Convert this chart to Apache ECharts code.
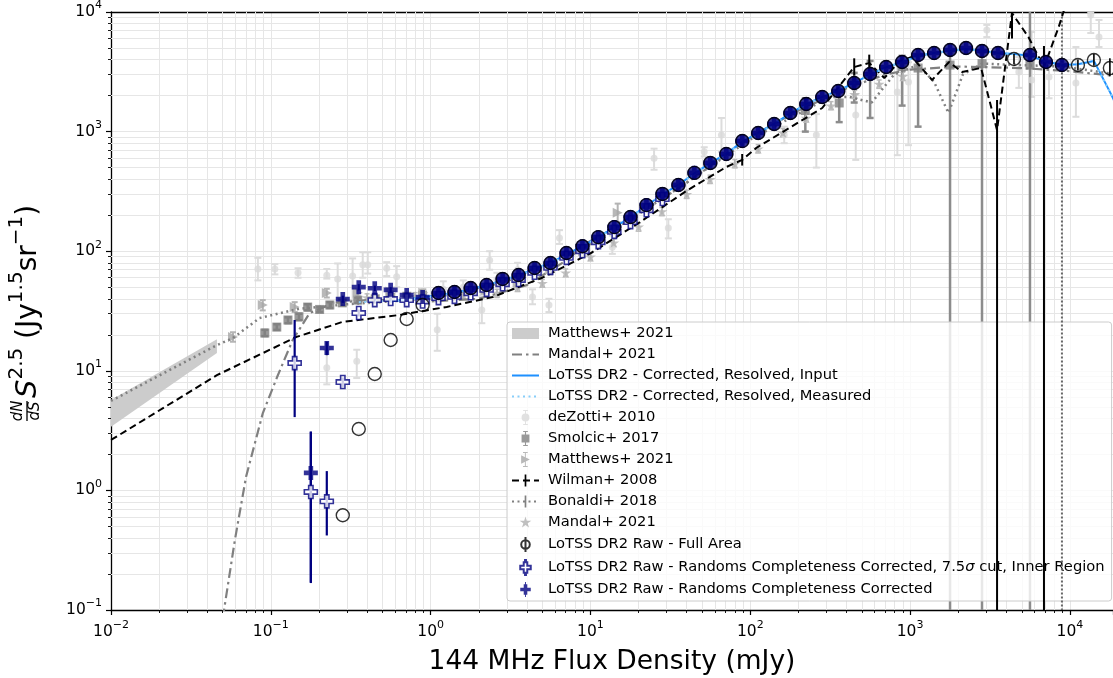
<!DOCTYPE html>
<html><head><meta charset="utf-8">
<script src="https://cdn.jsdelivr.net/npm/echarts@6/dist/echarts.min.js"></script>
<style>html,body{margin:0;padding:0;background:#fff}#c{width:1113px;height:678px}</style>
</head><body><div id="c"></div>
<script>
// ---------------- data ----------------
// Matthews+ 2021 model band
const bandX = [0.01, 0.046];
const bandLo = [3.4, 14.1];
const bandHi = [5.7, 18.4];
// Mandal+ 2021 model line
const mandalLineX = [0.05, 0.0596, 0.07, 0.089, 0.11, 0.137, 0.175, 0.25, 0.4, 0.7, 1, 2, 4, 7.1, 9.5, 17.5, 40, 100, 200, 400, 700, 1000, 2000, 5000, 10000, 20000];
const mandalLineY = [0.085, 0.385, 1.3, 4.4, 9, 18.1, 30.4, 37, 39, 39, 38, 40, 52, 84, 117, 182, 372, 900, 1500, 2300, 3000, 3300, 3500, 3400, 3200, 2900];
// LoTSS DR2 corrected, resolved lines
const lineX = [0.355, 0.447, 0.562, 0.708, 0.891, 1.12, 1.41, 1.78, 2.24, 2.82, 3.55, 4.47, 5.62, 7.08, 8.91, 11.2, 14.1, 17.8, 22.4, 28.2, 35.5, 44.7, 56.2, 70.8, 89.1, 112, 141, 178, 224, 282, 355, 447, 562, 708, 891, 1122, 1413, 1778, 2239, 2818, 3548, 4467, 5623, 7079, 8913, 11220, 14125, 17783, 22387];
const inputY = [null, null, 38, 39.5, 41, 43, 45, 48, 52, 57, 63, 71, 80, 94, 110, 131, 158, 193, 240, 298, 358, 448, 545, 655, 820, 975, 1160, 1420, 1700, 1950, 2200, 2550, 3000, 3450, 3800, 4300, 4550, 4750, 4900, 4750, 4550, 4450, 4300, 3850, 3600, 3650, 3900, 2150, 1150];
const measuredY = [37.5, 38, 38.5, 39.5, 40.5, 42.5, 44.5, 47.5, 51.5, 56.5, 62.5, 70.5, 79.5, 93, 109, 130, 157, 192, 238, 296, 356, 445, 542, 650, 815, 970, 1150, 1410, 1690, 1940, 2190, 2540, 2990, 3440, 3790, 4280, 4530, 4730, 4880, 4740, 4540, 4440, 4290, 3840, 3600, 3650, 3880, 2140, 1150];
// deZotti+ 2010
const dzX = [0.083, 0.106, 0.148, 0.224, 0.262, 0.325, 0.376, 0.404, 0.531, 0.613, 0.224, 0.345, 1.1, 1.2, 1.6, 2.09, 2.34, 2.6, 3.5, 4.34, 5.5, 6.4, 13.7, 25, 30.7, 51.5, 66, 163, 259, 457, 832, 977, 3020, 4790, 5760, 7400, 10900, 13500, 15200];
const dzY = [71, 71, 66, 63, 58.6, 62, 77, 77, 72, 61, 10.6, 12, 22, 48, 50, 32.2, 84, 58, 70, 41.4, 35.5, 129, 108, 600, 156, 677, 938, 938, 938, 1377, 2140, 2600, 7080, 3150, 2700, 2860, 2550, 9440, 6170];
const dzLo = [57, 64, 60, 59, 37, 39, 60, 65, 62, 50, 7.7, 8.7, 14.7, 40, 44, 25, 70, 52, 62, 36, 31, 115, 95, 480, 128, 620, 677, 800, 500, 580, 635, 770, 6170, 2320, 1950, 1900, 1330, 6670, 5100];
const dzHi = [88, 78, 72, 71, 79, 87, 98, 98, 81, 75, 15, 15, 30, 56, 57, 42, 100, 66, 80, 48, 40, 150, 135, 720, 185, 740, 1300, 1100, 1400, 2030, 3960, 3800, 7800, 4200, 6800, 4000, 5100, 10000, 8570];
// Smolcic+ 2017
const smX = [0.0917, 0.109, 0.128, 0.15, 0.17, 0.202, 0.234, 0.28, 0.35, 0.45, 0.56, 0.71, 0.89, 221, 360, 447, 562, 891, 1122, 1778, 2818, 5623];
const smY = [20.7, 23.2, 26.6, 28.3, 34.1, 32.6, 35.5, 37, 39, 40, 41, 42, 43, 1500, 1735, 2550, 3030, 3500, 3400, 3600, 3700, 3600];
const smLo = [19.5, 22, 25, 26.5, 32, 31, 33.5, 35, 37, 38, 39, 40, 41, 1000, 1200, 1750, 1300, 1650, 1100, 0.01, 0.01, 0.01];
const smHi = [22, 24.5, 28, 30, 36, 34, 37.5, 39, 41, 42, 43, 44, 45, 1900, 2100, 3100, 3900, 4300, 4400, 4500, 4600, 12000];
// Matthews+ 2021 points
const mtX = [0.058, 0.089, 0.141, 0.224, 0.35, 0.56, 0.9, 1.4, 2.2, 3.5, 5.6, 9, 14.8];
const mtY = [19.2, 35.5, 34.1, 44.7, 45, 46, 45, 44, 47, 55, 70, 100, 210];
const mtLo = [17.5, 32, 31, 41, 42, 43, 42, 41, 44, 51, 64, 90, 175];
const mtHi = [21, 39, 37.5, 48.5, 48, 49, 48, 47, 50, 59, 76, 110, 250];
// Wilman+ 2008
const wiX = [0.01, 0.046, 0.145, 0.28, 0.64, 1.26, 2.45, 5, 10, 20, 40, 55.5, 70.8, 89, 109, 138, 282, 447, 555, 690, 851, 1023, 1372, 1754, 2113, 2780, 3500, 4340, 5500, 6880, 8510, 9500];
const wiY = [2.64, 9.2, 19.2, 25.6, 29.3, 34.2, 41.4, 60, 96, 172, 320, 417, 506, 580, 730, 883, 1575, 3467, 3750, 2805, 3819, 4207, 2700, 3819, 3150, 3404, 1030, 9800, 6170, 3467, 7500, 12000];
const wiEX = [89, 447, 555, 3500, 4340, 6880];
const wiEY = [580, 3467, 3750, 1030, 9800, 3467];
const wiELo = [520, 2950, 3200, 0.01, 6000, 0.01];
const wiEHi = [650, 4100, 4400, 1840, 100000, 5200];
// Bonaldi+ 2018
const boX = [0.01, 0.046, 0.058, 0.085, 0.15, 0.3, 1, 3, 10, 30, 100, 316, 417, 575, 794, 1122, 1413, 1738, 2138, 2818, 8913, 20000];
const boY = [5.6, 16.4, 18.8, 27.6, 33, 36, 40, 56, 115, 290, 860, 1950, 1950, 1750, 3000, 3600, 2600, 1430, 3000, 3700, 3500, 3000];
const boEX = [8913];
const boEY = [3500];
const boELo = [0.01];
const boEHi = [100000];
// Mandal+ 2021 points
const msX = [0.28, 0.4, 0.56, 0.8, 1.1, 1.6, 2.6, 3.5, 5, 7, 10, 14, 20, 28, 40, 56, 80, 112, 160, 224, 320, 450, 640, 900];
const msY = [38, 41, 43, 42, 41, 43, 44.7, 50, 54, 66, 90, 118, 160, 215, 300, 400, 540, 720, 980, 1300, 1650, 2050, 2500, 2900];
const msLo = [35, 38, 40, 39, 38, 40, 41, 46, 50, 61, 83, 109, 147, 198, 276, 368, 497, 662, 900, 1200, 1520, 1890, 2300, 2670];
const msHi = [41, 44, 46, 45, 44, 46, 48, 54, 58, 71, 97, 127, 173, 232, 324, 432, 583, 778, 1060, 1400, 1780, 2210, 2700, 3130];
// LoTSS DR2 Raw main binned sequence
const mainX = [1.12, 1.41, 1.78, 2.24, 2.82, 3.55, 4.47, 5.62, 7.08, 8.91, 11.2, 14.1, 17.8, 22.4, 28.2, 35.5, 44.7, 56.2, 70.8, 89.1, 112, 141, 178, 224, 282, 355, 447, 562, 708, 891, 1122, 1413, 1778, 2239, 2818, 3548, 5623, 7079, 8913];
const mainY = [44.7, 45.6, 49.2, 52.2, 58.6, 63.2, 72.4, 79.7, 96.6, 110, 131, 159, 193, 243, 301, 358, 452, 547, 650, 834, 973, 1158, 1431, 1702, 1947, 2186, 2549, 3031, 3467, 3819, 4370, 4543, 4813, 5000, 4720, 4543, 4370, 3819, 3604];
// LoTSS DR2 Raw - Full Area (low and high flux ends)
const faLowX = [0.282, 0.355, 0.447, 0.562, 0.708, 0.891];
const faLowY = [0.62, 3.26, 9.4, 18.1, 27.1, 35.5];
const faHighX = [4467, 11220, 14125, 17783];
const faHighY = [4045, 3604, 3970, 3400];
const faHighLo = [3650, 3250, 3550, 2900];
const faHighHi = [4450, 4000, 4450, 4100];
// 7.5 sigma inner region
const opX = [0.141, 0.178, 0.224, 0.282, 0.355, 0.447, 0.562, 0.708, 0.891, 1.12, 1.41, 1.78, 2.24, 2.82, 3.55, 4.47, 5.62, 7.08, 8.91, 11.2, 14.1, 17.8, 22.4, 28.2];
const opY = [11.6, 0.97, 0.81, 8.05, 30.4, 39, 39.8, 39, 38, 40.5, 41.5, 44.5, 47.5, 53, 57.5, 66, 72.5, 88, 100, 119, 145, 175, 220, 273];
const opLo = [4.1, 0.168, 0.42, 7.3, 28.5, 37, 38, 37.5, 36.5, 39, 40, 43, 46, 51, 55.5, 64, 70, 85, 97, 115, 140, 169, 212, 263];
const opHi = [26.6, 3.1, 1.45, 8.8, 32.5, 41, 41.6, 40.5, 39.5, 42, 43, 46, 49, 55, 59.5, 68, 75, 91, 103, 123, 150, 181, 228, 283];
// Randoms completeness corrected (low flux end)
const cpX = [0.178, 0.224, 0.282, 0.355, 0.447, 0.562, 0.708, 0.891];
const cpY = [1.4, 15.5, 39.8, 50, 49, 47.5, 43, 41.4];
const cpLo = [0.17, 13.5, 37, 47, 46.5, 45, 41, 39.5];
const cpHi = [3.1, 17.5, 42.5, 53, 51.5, 50, 45, 43.3];

// ---------------- helpers ----------------
const FONT = "'DejaVu Sans', sans-serif";
const X_MIN = 0.01, X_MAX = 18600, Y_MIN = 0.1, Y_MAX = 1e4;
const pairs = (xs, ys) => xs.map((x, i) => [x, ys[i]]);
function powLabel(v) {
  const e = Math.log10(v), r = Math.round(e);
  if (Math.abs(e - r) > 1e-6) return '';
  return '10{s|' + (r < 0 ? '\u2212' + (-r) : r) + '}';
}
const minorX = [], minorY = [];
for (let k = -2; k <= 4; k++) for (let d = 2; d <= 9; d++) { const v = +(d * Math.pow(10, k)).toPrecision(3); if (v <= X_MAX) minorX.push(v); }
for (let k = -1; k <= 3; k++) for (let d = 2; d <= 9; d++) minorY.push(+(d * Math.pow(10, k)).toPrecision(3));

function errSeries(name, xs, ys, los, his, color, width, cap, dash, z) {
  return {
    name, type: 'custom', coordinateSystem: 'cartesian2d', clip: true, z, silent: true,
    itemStyle: { color },
    data: xs.map((x, i) => [x, ys[i], los[i], his[i]]),
    encode: { x: 0, y: 1 },
    renderItem: (params, api) => {
      const x = api.value(0);
      const a = api.coord([x, api.value(3)]), b = api.coord([x, api.value(2)]);
      const st = { stroke: color, lineWidth: width, lineDash: dash || null };
      const ch = [{ type: 'line', shape: { x1: a[0], y1: a[1], x2: b[0], y2: b[1] }, style: st }];
      if (cap) {
        ch.push({ type: 'line', shape: { x1: a[0] - cap, y1: a[1], x2: a[0] + cap, y2: a[1] }, style: st });
        ch.push({ type: 'line', shape: { x1: b[0] - cap, y1: b[1], x2: b[0] + cap, y2: b[1] }, style: st });
      }
      return { type: 'group', children: ch };
    }
  };
}
function scat(name, data, symbol, size, itemStyle, z) {
  return { name, type: 'scatter', data, symbol, symbolSize: size, symbolKeepAspect: true, itemStyle, z, silent: true };
}
function lineS(name, data, color, width, type, z, sym) {
  return { name, type: 'line', data, symbol: sym || 'none', showSymbol: false, connectNulls: false, lineStyle: { color, width, type }, itemStyle: { color }, z, silent: true };
}
const PLUS = 'path://M1,0L2,0L2,1L3,1L3,2L2,2L2,3L1,3L1,2L0,2L0,1L1,1Z';
const STAR = 'path://M50,0L61,35L98,35L68,57L79,91L50,70L21,91L32,57L2,35L39,35Z';
const TRI_R = 'path://M0,0L10,5L0,10Z';
const VBAR = 'path://M-5,0M5,10M-0.7,0H0.7V10H-0.7Z';
// legend handle icons (marker with error bar), frame about 9 x 16
const IC_DZ = 'path://M1.5,0H6.5V1H1.5ZM3.5,0H4.5V3.8H3.5ZM3.5,12.2H4.5V16H3.5ZM1.5,15H6.5V16H1.5ZM8.2,8A4.2,4.2,0,1,1,-0.2,8A4.2,4.2,0,1,1,8.2,8Z';
const IC_SM = 'path://M1.5,0H6.5V1H1.5ZM3.4,0H4.6V16H3.4ZM1.5,15H6.5V16H1.5ZM-0.2,3.8H8.2V12.2H-0.2Z';
const IC_MT = 'path://M1.5,0H6.5V1H1.5ZM3.5,0H4.5V16H3.5ZM1.5,15H6.5V16H1.5ZM-0.5,3.4L8.8,8L-0.5,12.6Z';
const IC_MS = 'path://M-2,-12M102,112M50,0L61,35L98,35L68,57L79,91L50,70L21,91L32,57L2,35L39,35Z';
const IC_FA = 'path://M8,8A4,4,0,1,1,0,8A4,4,0,1,1,8,8ZM4,1L4,15';
const IC_OP = 'path://M3.5,0H4.5V2.4H3.5ZM3.5,13.6H4.5V16H3.5ZM2.1,2.4H5.9V6.1H9.6V9.9H5.9V13.6H2.1V9.9H-1.6V6.1H2.1Z';
const IC_CP = 'path://M3.5,0H4.5V16H3.5ZM2.1,2.4H5.9V6.1H9.6V9.9H5.9V13.6H2.1V9.9H-1.6V6.1H2.1Z';

const NAVY = '#000080';
const names = {
  band: 'Matthews+ 2021', mline: 'Mandal+ 2021',
  inp: 'LoTSS DR2 - Corrected, Resolved, Input', meas: 'LoTSS DR2 - Corrected, Resolved, Measured',
  dz: 'deZotti+ 2010', sm: 'Smolcic+ 2017', mt: 'Matthews+ 2021 ', wi: 'Wilman+ 2008',
  bo: 'Bonaldi+ 2018', ms: 'Mandal+ 2021 ', fa: 'LoTSS DR2 Raw - Full Area',
  op: 'LoTSS DR2 Raw - Randoms Completeness Corrected, 7.5σ cut, Inner Region',
  cp: 'LoTSS DR2 Raw - Randoms Completeness Corrected'
};

const series = [
  {
    name: names.band, type: 'custom', coordinateSystem: 'cartesian2d', clip: true, z: 3, silent: true,
    itemStyle: { color: '#cccccc' },
    data: bandX.map((x, i) => [x, bandLo[i], bandHi[i]]),
    encode: { x: 0, y: [1, 2] },
    renderItem: (params, api) => {
      if (params.dataIndex !== 0) return;
      const top = bandX.map((x, i) => api.coord([x, bandHi[i]]));
      const bot = bandX.map((x, i) => api.coord([x, bandLo[i]])).reverse();
      return { type: 'polygon', shape: { points: top.concat(bot) }, style: { fill: '#cccccc' } };
    }
  },
  lineS(names.mline, pairs(mandalLineX, mandalLineY), '#808080', 2.2, [10, 4, 2.5, 4], 5),
  lineS(names.inp, pairs(lineX, inputY), '#1e90ff', 2, 'solid', 7),
  lineS(names.meas, pairs(lineX, measuredY), '#87cefa', 2, [2, 3.5], 7),
  scat(names.dz, pairs(dzX, dzY), 'circle', 7, { color: '#d9d9d9' }, 3),
  errSeries(names.dz, dzX, dzY, dzLo, dzHi, '#dcdcdc', 2, 3.5, null, 2),
  scat(names.sm, pairs(smX, smY), 'rect', 9, { color: '#808080' }, 4),
  errSeries(names.sm, smX, smY, smLo, smHi, '#8c8c8c', 2.5, 3.5, null, 3),
  scat(names.mt, pairs(mtX, mtY), TRI_R, 10, { color: '#a6a6a6' }, 4),
  errSeries(names.mt, mtX, mtY, mtLo, mtHi, '#b4b4b4', 2, 3, null, 3),
  lineS(names.wi, pairs(wiX, wiY), '#000000', 2, [7, 4], 6, VBAR),
  errSeries(names.wi, wiEX, wiEY, wiELo, wiEHi, '#000000', 2, 0, null, 6),
  lineS(names.bo, pairs(boX, boY), '#808080', 2.5, [2, 3.5], 5, VBAR),
  errSeries(names.bo, boEX, boEY, boELo, boEHi, '#666666', 2, 0, [2, 2], 5),
  scat(names.ms, pairs(msX, msY), STAR, 11, { color: '#b0b0b0' }, 4),
  errSeries(names.ms, msX, msY, msLo, msHi, '#bdbdbd', 1.5, 2.5, null, 3),
  scat(names.op, pairs(opX, opY), PLUS, 13, { color: '#ffffff', borderColor: NAVY, borderWidth: 1.6 }, 8),
  errSeries(names.op, opX, opY, opLo, opHi, NAVY, 2.2, 0, null, 7),
  scat(names.cp, pairs(cpX, cpY).concat(pairs(mainX, mainY)), PLUS, 14, { color: NAVY }, 9),
  errSeries(names.cp, cpX, cpY, cpLo, cpHi, NAVY, 2.2, 0, null, 8),
  scat('LoTSS DR2 Raw bins', pairs(mainX, mainY), 'circle', 14, { color: NAVY }, 10),
  scat(names.fa, pairs(faLowX, faLowY).concat(pairs(mainX, mainY), pairs(faHighX, faHighY)), 'circle', 13,
    { color: 'rgba(255,255,255,0)', borderColor: '#000000', borderWidth: 1.4 }, 11),
  errSeries(names.fa, faHighX, faHighY, faHighLo, faHighHi, '#000000', 1.6, 0, null, 11)
];

const axisTxt = { fontFamily: FONT, fontSize: 15.5, color: '#000', lineHeight: 24,
  rich: { s: { fontFamily: FONT, fontSize: 11, lineHeight: 12, verticalAlign: 'top', color: '#000' } } };
const GRID_C = '#e6e6e6';
const logBase = { type: 'log', logBase: 10 };
const xr = { min: X_MIN, max: X_MAX }, yr = { min: Y_MIN, max: Y_MAX };
const HIDE_SYM = { color: 'rgba(0,0,0,0)', borderColor: 'rgba(0,0,0,0)', borderWidth: 0 };

const option = {
  animation: false,
  backgroundColor: '#ffffff',
  grid: { left: 111, right: 0, top: 12, bottom: 68, containLabel: false, outerBoundsMode: 'none' },
  xAxis: [
    Object.assign({}, logBase, xr, {
      position: 'bottom', splitNumber: 7,
      axisLine: { show: true, onZero: false, lineStyle: { color: '#000', width: 1.3 } },
      axisTick: { show: true, length: 5, lineStyle: { color: '#000', width: 1.2 } },
      axisLabel: Object.assign({ formatter: powLabel, margin: 10 }, axisTxt),
      splitLine: { show: true, lineStyle: { color: GRID_C, width: 1 } },
      name: '144 MHz Flux Density (mJy)', nameLocation: 'middle', nameGap: 37,
      nameTextStyle: { fontFamily: FONT, fontSize: 26.5, color: '#000' }
    }),
    Object.assign({}, logBase, xr, {
      position: 'bottom', axisLine: { show: false, onZero: false }, axisLabel: { show: false }, splitLine: { show: false },
      axisTick: { show: true, inside: true, length: 598, customValues: minorX, lineStyle: { color: GRID_C, width: 1 } }
    }),
    Object.assign({}, logBase, xr, {
      position: 'bottom', axisLine: { show: false, onZero: false }, axisLabel: { show: false }, splitLine: { show: false },
      axisTick: { show: true, length: 3, customValues: minorX, lineStyle: { color: '#000', width: 0.9 } }
    }),
    Object.assign({}, logBase, xr, {
      position: 'top', axisLine: { show: true, onZero: false, lineStyle: { color: '#000', width: 1.3 } },
      axisTick: { show: false }, axisLabel: { show: false }, splitLine: { show: false }
    })
  ],
  yAxis: [
    Object.assign({}, logBase, yr, {
      position: 'left', splitNumber: 6,
      axisLine: { show: true, onZero: false, lineStyle: { color: '#000', width: 1.3 } },
      axisTick: { show: true, length: 5, lineStyle: { color: '#000', width: 1.2 } },
      axisLabel: Object.assign({ formatter: powLabel, margin: 9 }, axisTxt),
      splitLine: { show: true, lineStyle: { color: GRID_C, width: 1 } }
    }),
    Object.assign({}, logBase, yr, {
      position: 'left', axisLine: { show: false, onZero: false }, axisLabel: { show: false }, splitLine: { show: false },
      axisTick: { show: true, inside: true, length: 1002, customValues: minorY, lineStyle: { color: GRID_C, width: 1 } }
    }),
    Object.assign({}, logBase, yr, {
      position: 'left', axisLine: { show: false, onZero: false }, axisLabel: { show: false }, splitLine: { show: false },
      axisTick: { show: true, length: 3, customValues: minorY, lineStyle: { color: '#000', width: 0.9 } }
    })
  ],
  legend: {
    orient: 'vertical', left: 507, top: 322, padding: [4, 7, 4, 4], itemGap: 6,
    itemWidth: 27, itemHeight: 15,
    backgroundColor: 'rgba(255,255,255,0.8)', borderColor: '#cccccc', borderWidth: 1, borderRadius: 3,
    textStyle: { fontFamily: FONT, fontSize: 14.7, color: '#000', padding: [0, 0, 0, 4],
      rich: { i: { fontFamily: FONT, fontSize: 14.7, fontStyle: 'italic', color: '#000' } } },
    formatter: n => n.replace('σ', '{i|σ}'),
    selectedMode: false,
    data: [
      { name: names.band, icon: 'path://M0,0H27V11H0ZM0,-2M0,13' },
      { name: names.mline, itemStyle: HIDE_SYM },
      { name: names.inp, itemStyle: HIDE_SYM },
      { name: names.meas, itemStyle: HIDE_SYM },
      { name: names.dz, icon: IC_DZ },
      { name: names.sm, icon: IC_SM },
      { name: names.mt, icon: IC_MT },
      { name: names.wi },
      { name: names.bo },
      { name: names.ms, icon: IC_MS },
      { name: names.fa, icon: IC_FA },
      { name: names.op, icon: IC_OP },
      { name: names.cp, icon: IC_CP }
    ]
  },
  graphic: [{
    type: 'group', x: 27, y: 421, rotation: Math.PI / 2, silent: true,
    children: [
      { type: 'text', x: 10, y: -1, style: { text: 'dN', fontFamily: FONT, fontStyle: 'italic', fontSize: 15, align: 'center', verticalAlign: 'bottom', fill: '#000' } },
      { type: 'line', shape: { x1: 0, y1: 0, x2: 20, y2: 0 }, style: { stroke: '#000', lineWidth: 1.3 } },
      { type: 'text', x: 10, y: 1, style: { text: 'dS', fontFamily: FONT, fontStyle: 'italic', fontSize: 15, align: 'center', verticalAlign: 'top', fill: '#000' } },
      { type: 'text', x: 23, y: -2, style: {
          text: '{it|S}{p|2.5}{b| (Jy}{p|1.5}{b|sr}{p|\u22121}{b|)}',
          align: 'left', verticalAlign: 'middle', fill: '#000',
          rich: {
            it: { fontFamily: FONT, fontSize: 29, fontStyle: 'italic', lineHeight: 36, verticalAlign: 'bottom', fill: '#000' },
            b: { fontFamily: FONT, fontSize: 28, lineHeight: 36, verticalAlign: 'bottom', fill: '#000' },
            p: { fontFamily: FONT, fontSize: 20, lineHeight: 23, verticalAlign: 'top', fill: '#000' }
          } } }
    ]
  }],
  series
};
const chart = echarts.init(document.getElementById('c'), null, { renderer: 'canvas' });
chart.setOption(option);
</script></body></html>
